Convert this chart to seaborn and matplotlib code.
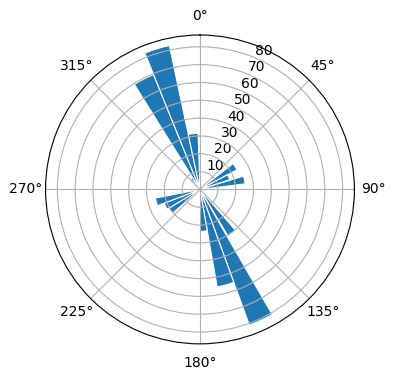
import numpy as np
import matplotlib
matplotlib.use("Agg")
import matplotlib.pyplot as plt
import seaborn as sns

# wind-rose style counts, direction in degrees (clockwise from north)
directions = [57, 67, 78, 144, 155, 165, 175, 234, 244, 254, 323, 333, 343, 353]
counts = [23.5, 17.5, 25.5, 30.5, 81.0, 55.5, 23.5, 20.5, 21.5, 25.5, 8.0, 69.5, 82.5, 31.5]
bin_width = 10

color = sns.color_palette()[0]

fig = plt.figure(figsize=(3.96, 3.8), dpi=100)
ax = fig.add_axes([0.115, 0.095, 0.78, 0.813], projection='polar')

ax.set_theta_zero_location('N')
ax.set_theta_direction(-1)

# Create the plot
ax.bar(np.deg2rad(directions), counts, width=np.deg2rad(bin_width),
       color=color, edgecolor='white', linewidth=0.8)

ax.set_rlabel_position(22.5)
ax.set_yticks([10, 20, 30, 40, 50, 60, 70, 80])

fig.savefig('out.png', dpi=100)
